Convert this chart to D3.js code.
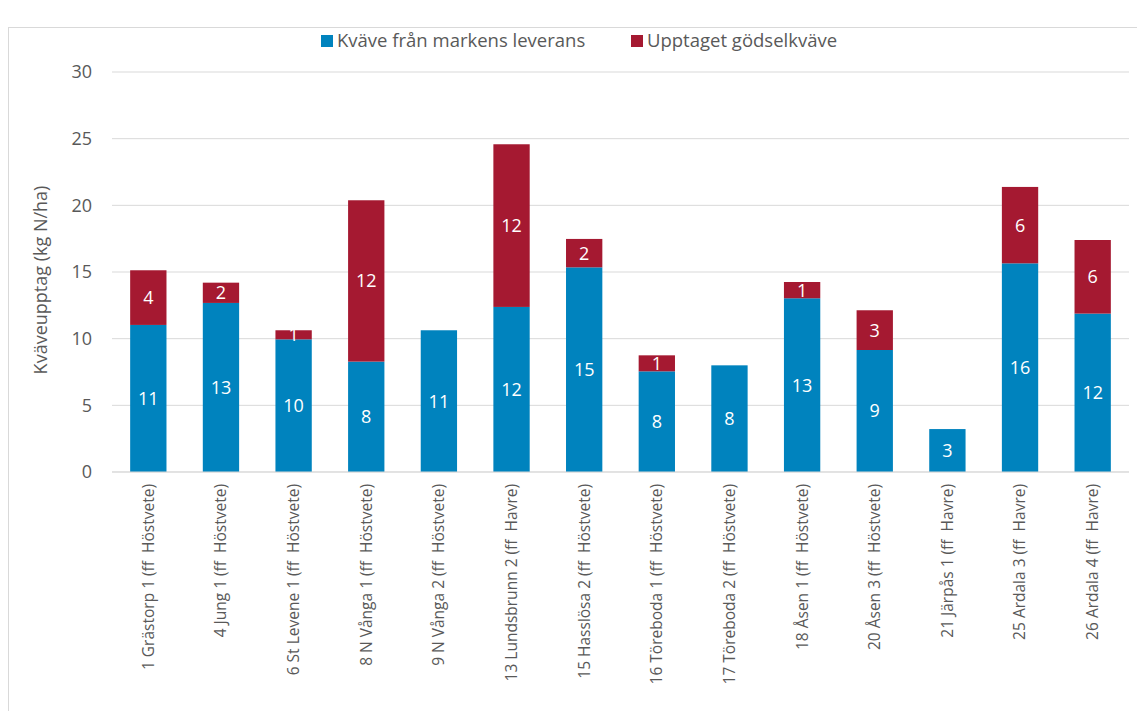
<!DOCTYPE html>
<html><head><meta charset="utf-8">
<script src="https://cdn.jsdelivr.net/npm/d3@7"></script>
<style>
body{margin:0;background:#fff;}
text{font-family:"Open Sans","Noto Sans",sans-serif;}
</style></head>
<body><svg id="c" width="1137" height="711"></svg>
<script>
const categories = ["1 Grästorp 1 (ff  Höstvete)","4 Jung 1 (ff  Höstvete)","6 St Levene 1 (ff  Höstvete)","8 N Vånga 1 (ff  Höstvete)","9 N Vånga 2 (ff  Höstvete)","13 Lundsbrunn 2 (ff  Havre)","15 Hasslösa 2 (ff  Höstvete)","16 Töreboda 1 (ff  Höstvete)","17 Töreboda 2 (ff  Höstvete)","18 Åsen 1 (ff  Höstvete)","20 Åsen 3 (ff  Höstvete)","21 Järpås 1 (ff  Havre)","25 Ardala 3 (ff  Havre)","26 Ardala 4 (ff  Havre)"];
const markValues = [11.03, 12.68, 9.95, 8.28, 10.63, 12.38, 15.35, 7.55, 8.0, 13.03, 9.15, 3.22, 15.65, 11.88];
const godselValues = [4.1, 1.52, 0.68, 12.1, 0, 12.2, 2.13, 1.2, 0, 1.22, 2.98, 0, 5.73, 5.52];
const seriesNames = ["Kväve från markens leverans","Upptaget gödselkväve"];
const colors = ["#0083be","#a51931"];
const yTicks = [0,5,10,15,20,25,30];
const yTitle = "Kväveupptag (kg N/ha)";

const svg = d3.select("#c");
const pL = 112, pR = 1129, pT = 72, pB = 472;
svg.append("rect").attr("x",8.5).attr("y",27.5).attr("width",1140).attr("height",700)
  .attr("fill","none").attr("stroke","#d9d9d9");

const x = d3.scaleBand().domain(categories).range([pL,pR]).paddingInner(0.5).paddingOuter(0.25);
const y = d3.scaleLinear().domain([0,30]).range([pB,pT]);

svg.append("g").selectAll("line").data(yTicks).join("line")
  .attr("x1",pL).attr("x2",pR).attr("y1",d=>y(d)).attr("y2",d=>y(d))
  .attr("stroke","#d9d9d9").attr("stroke-width",1);
svg.append("g").selectAll("text").data(yTicks).join("text")
  .attr("x",92).attr("y",d=>y(d)).attr("dy","0.35em").attr("text-anchor","end")
  .attr("font-size",18).attr("fill","#595959").text(d=>d);
svg.append("text").attr("transform","translate(47,280) rotate(-90)").attr("text-anchor","middle")
  .attr("font-size",18).attr("fill","#595959").text(yTitle);

const data = categories.map((c,i)=>({cat:c, mark:markValues[i], gods:godselValues[i]}));
const stack = d3.stack().keys(["mark","gods"])(data);
const g = svg.append("g");
stack.forEach((layer,li)=>{
  g.append("g").selectAll("rect").data(layer).join("rect")
    .attr("x",d=>x(d.data.cat)).attr("width",x.bandwidth())
    .attr("y",d=>y(d[1])).attr("height",d=>y(d[0])-y(d[1]))
    .attr("fill",colors[li]);
});
stack.forEach((layer,li)=>{
  g.append("g").selectAll("text").data(layer.filter(d=>d[1]-d[0]>0)).join("text")
    .attr("x",d=>x(d.data.cat)+x.bandwidth()/2)
    .attr("y",d=>(y(d[0])+y(d[1]))/2).attr("dy","0.36em")
    .attr("text-anchor","middle").attr("font-size",18).attr("fill","#fff")
    .text(d=>Math.round(d[1]-d[0]));
});
svg.append("line").attr("x1",pL).attr("x2",pR).attr("y1",pB).attr("y2",pB)
  .attr("stroke","#d9d9d9");
svg.append("g").selectAll("text").data(categories).join("text")
  .attr("transform",d=>`translate(${x(d)+x.bandwidth()/2},484) rotate(-90)`)
  .attr("text-anchor","end").attr("dy","0.35em").attr("font-size",15.5).attr("fill","#595959")
  .style("white-space","pre").text(d=>d);

const leg = svg.append("g");
const legX = [321, 631];
seriesNames.forEach((n,i)=>{
  leg.append("rect").attr("x",legX[i]).attr("y",35).attr("width",12).attr("height",12).attr("fill",colors[i]);
  leg.append("text").attr("x",legX[i]+16).attr("y",41).attr("dy","0.35em").attr("font-size",18.5)
    .attr("fill","#595959").text(n);
});
</script></body></html>
